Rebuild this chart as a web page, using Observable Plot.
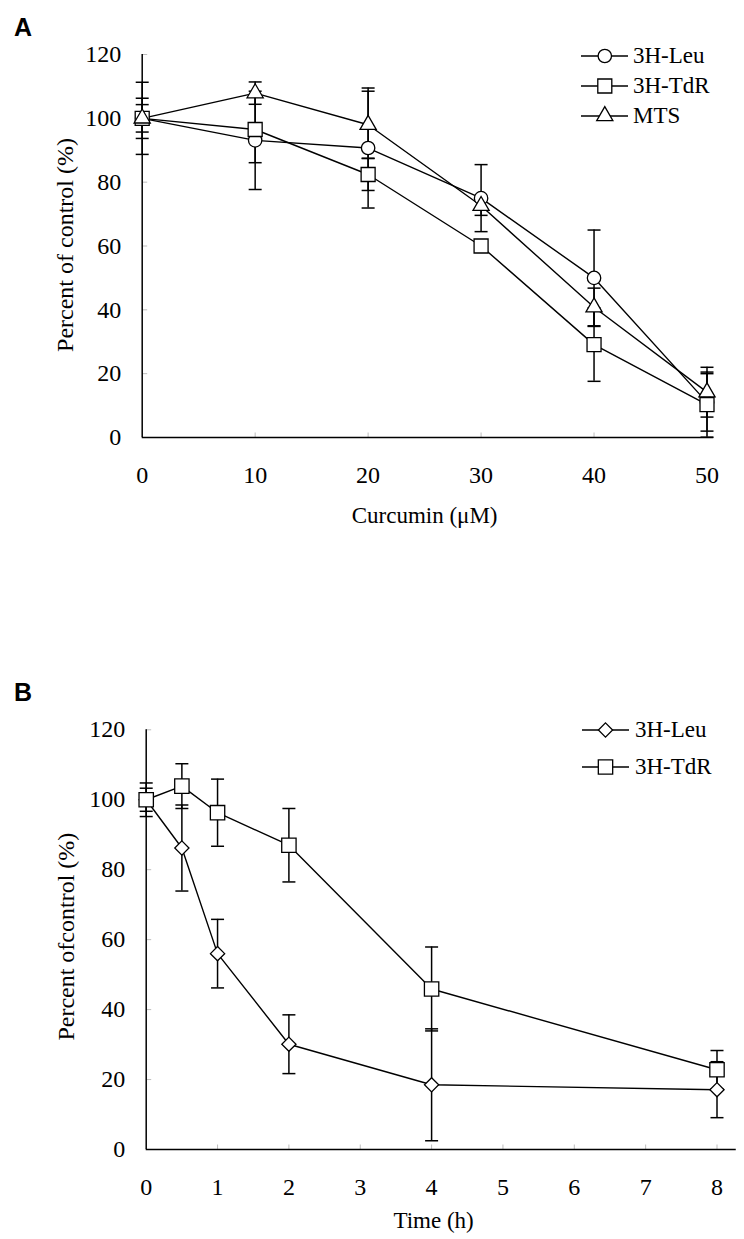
<!DOCTYPE html>
<html>
<head>
<meta charset="utf-8">
<script src="https://cdn.jsdelivr.net/npm/d3@7"></script>
<script src="https://cdn.jsdelivr.net/npm/@observablehq/plot@0.6"></script>
<style>
  body { margin: 0; background: #fff; }
  #page { position: relative; width: 744px; height: 1239px; overflow: hidden; background: #fff;
          font-family: 'Liberation Serif', serif; color: #000; }
  .panel { position: absolute; left: 0; }
  .letter { position: absolute; font-family: 'Liberation Sans', sans-serif; font-weight: bold;
            font-size: 25px; line-height: 1; }
  .lgrow { position: absolute; height: 30px; }
  .lgtext { position: absolute; font-family: 'Liberation Serif', serif; font-size: 23px; line-height: 30px; white-space: nowrap; }
  svg text { font-family: 'Liberation Serif', serif; }
</style>
</head>
<body>
<div id="page"></div>
<script>
// ---------- Panel A data (Curcumin dose) ----------
const doseA = [0, 10, 20, 30, 40, 50];
const leuA = [100, 93.1, 90.7, 75.0, 50.0, 11.0];
const leuErrA = [4.3, 15.4, 18.8, 10.5, 15.0, 9.0];
const tdrA = [100, 96.5, 82.4, 60.0, 29.1, 10.3];
const tdrErrA = [6.3, 10.4, 5.0, 1.0, 11.5, 10.2];
const mtsA = [100, 107.9, 98.0, 72.6, 40.8, 14.2];
const mtsErrA = [11.3, 3.5, 10.5, 3.0, 6.0, 7.8];
const seriesNamesA = ["3H-Leu", "3H-TdR", "MTS"];
const xTicksA = [0, 10, 20, 30, 40, 50];

// ---------- Panel B data (time course) ----------
const timeB = [0, 0.5, 1, 2, 4, 8];
const leuB = [100, 86.2, 56.0, 30.1, 18.5, 17.1];
const leuErrB = [3.3, 12.3, 9.8, 8.4, 16.0, 8.0];
const tdrB = [100, 103.9, 96.3, 87.0, 45.9, 22.8];
const tdrErrB = [4.8, 6.4, 9.6, 10.5, 12.0, 5.5];
const seriesNamesB = ["3H-Leu", "3H-TdR"];
const xTicksB = [0, 1, 2, 3, 4, 5, 6, 7, 8];

const yTicks = [0, 20, 40, 60, 80, 100, 120];

// ---------- helpers ----------
const capSym = { draw(ctx) { ctx.moveTo(-6.5, 0); ctx.lineTo(6.5, 0); } };
const tickRightSym = { draw(ctx) { ctx.moveTo(0, 0); ctx.lineTo(5, 0); } };
const tickUpSym = { draw(ctx) { ctx.moveTo(0, 0); ctx.lineTo(0, -5); } };

const FONT = "Liberation Serif";

function buildPanel(cfg) {
  const marks = [];
  // light grey inner ticks
  marks.push(Plot.dot(yTicks, { x: cfg.xDomain[0], y: d => d, symbol: tickRightSym, fill: "none", stroke: "#bdbdbd", strokeWidth: 1 }));
  marks.push(Plot.dot(cfg.xTicks.filter(v => v > cfg.xDomain[0]), { x: d => d, y: 0, symbol: tickUpSym, fill: "none", stroke: "#bdbdbd", strokeWidth: 1 }));
  // axis lines
  marks.push(Plot.ruleX([cfg.xDomain[0]], { y1: 0, y2: 120, stroke: "black", strokeWidth: 1.5 }));
  marks.push(Plot.ruleY([0], { x1: cfg.xDomain[0], x2: cfg.xAxisEnd, stroke: "black", strokeWidth: 1.5 }));
  // tick labels (text marks positioned by the scales)
  marks.push(Plot.text(cfg.xTicks, { x: d => d, y: 0, text: d => String(d), dy: 38, fontSize: 24, fontFamily: FONT, fill: "black", textAnchor: "middle", lineAnchor: "middle" }));
  marks.push(Plot.text(yTicks, { x: cfg.xDomain[0], y: d => d, text: d => String(d), dx: -21, fontSize: 24, fontFamily: FONT, fill: "black", textAnchor: "end", lineAnchor: "middle" }));
  // titles
  marks.push(Plot.text([cfg.yTitle], { text: d => d, frameAnchor: "left", dx: cfg.yTitleDx, dy: cfg.yTitleDy, rotate: -90, fontSize: 24, fontFamily: FONT, fill: "black", textAnchor: "middle" }));
  marks.push(Plot.text([cfg.xTitle], { text: d => d, frameAnchor: "bottom", dx: cfg.xTitleDx, dy: cfg.xTitleDy, fontSize: 23, fontFamily: FONT, fill: "black", textAnchor: "middle", lineAnchor: "middle" }));

  const tables = cfg.series.map(s => cfg.xs.map((x, i) => ({ x, y: s.ys[i], err: s.errs[i] })));
  // lines
  tables.forEach(t => marks.push(Plot.line(t, { x: "x", y: "y", stroke: "black", strokeWidth: 1.4 })));
  // error bars
  tables.forEach(t => {
    marks.push(Plot.ruleX(t, { x: "x", y1: d => d.y - d.err, y2: d => d.y + d.err, stroke: "black", strokeWidth: 1.5 }));
    marks.push(Plot.dot(t, { x: "x", y: d => d.y + d.err, symbol: capSym, fill: "none", stroke: "black", strokeWidth: 1.5 }));
    marks.push(Plot.dot(t, { x: "x", y: d => d.y - d.err, symbol: capSym, fill: "none", stroke: "black", strokeWidth: 1.5 }));
  });
  // markers
  tables.forEach((t, k) => marks.push(Plot.dot(t, { x: "x", y: "y", symbol: cfg.series[k].symbol, r: cfg.series[k].r, fill: "white", stroke: "black", strokeWidth: 1.3 })));

  return Plot.plot({
    width: 744,
    height: cfg.height,
    marginLeft: cfg.marginLeft,
    marginRight: cfg.marginRight,
    marginTop: cfg.marginTop,
    marginBottom: cfg.marginBottom,
    x: { domain: cfg.xDomain, axis: null },
    y: { domain: [0, 120], axis: null },
    style: { fontFamily: FONT, fontSize: "23px", color: "black", background: "transparent", overflow: "visible" },
    marks
  });
}

function addLegend(page, items, lineLeft, centers, textLeft) {
  items.forEach((it, i) => {
    const row = document.createElement("div");
    row.className = "lgrow";
    row.style.left = lineLeft + "px";
    row.style.top = (centers[i] - 15) + "px";
    const svg = d3.create("svg").attr("width", it.lineLen).attr("height", 30);
    svg.append("line").attr("x1", 0).attr("x2", it.lineLen).attr("y1", 15).attr("y2", 15)
       .attr("stroke", "black").attr("stroke-width", 1.5);
    svg.append("path").attr("transform", `translate(${it.lineLen / 2},15)`)
       .attr("d", d3.symbol(it.type, Math.PI * it.r * it.r)())
       .attr("fill", "white").attr("stroke", "black").attr("stroke-width", 1.3);
    row.appendChild(svg.node());
    page.appendChild(row);
    const tx = document.createElement("div");
    tx.className = "lgtext";
    tx.style.left = textLeft + "px";
    tx.style.top = (centers[i] - 15) + "px";
    tx.textContent = it.name;
    page.appendChild(tx);
  });
}

const page = document.getElementById("page");

// Panel A
const chartA = buildPanel({
  xs: doseA,
  series: [
    { name: seriesNamesA[0], ys: leuA, errs: leuErrA, symbol: "circle", r: 6.7 },
    { name: seriesNamesA[1], ys: tdrA, errs: tdrErrA, symbol: "square", r: 7.9 },
    { name: seriesNamesA[2], ys: mtsA, errs: mtsErrA, symbol: "triangle", r: 6.0 }
  ],
  xDomain: [0, 50], xAxisEnd: 50.6, xTicks: xTicksA,
  height: 540, marginLeft: 141.7, marginRight: 37.5, marginTop: 54, marginBottom: 103,
  yTitle: "Percent of control (%)", yTitleDx: -77, yTitleDy: -1,
  xTitle: "Curcumin (\u03BCM)", xTitleDx: 0, xTitleDy: 78
});
const divA = document.createElement("div");
divA.className = "panel"; divA.style.top = "0px";
divA.appendChild(chartA);
page.appendChild(divA);

// Panel B
const chartB = buildPanel({
  xs: timeB,
  series: [
    { name: seriesNamesB[0], ys: leuB, errs: leuErrB, symbol: "diamond2", r: 6.4 },
    { name: seriesNamesB[1], ys: tdrB, errs: tdrErrB, symbol: "square", r: 8.1 }
  ],
  xDomain: [0, 8], xAxisEnd: 8.27, xTicks: xTicksB,
  height: 619, marginLeft: 145.7, marginRight: 27.5, marginTop: 109.3, marginBottom: 90,
  yTitle: "Percent ofcontrol (%)", yTitleDx: -80, yTitleDy: -3,
  xTitle: "Time (h)", xTitleDx: 2, xTitleDy: 71
});
const divB = document.createElement("div");
divB.className = "panel"; divB.style.top = "620px";
divB.appendChild(chartB);
page.appendChild(divB);

// Legends
addLegend(page, [
  { name: seriesNamesA[0], type: d3.symbolCircle, r: 6.7, lineLen: 47.6 },
  { name: seriesNamesA[1], type: d3.symbolSquare, r: 7.9, lineLen: 47.6 },
  { name: seriesNamesA[2], type: d3.symbolTriangle, r: 6.0, lineLen: 47.6 }
], 580.7, [55.7, 86.2, 116], 633);

addLegend(page, [
  { name: seriesNamesB[0], type: d3.symbolDiamond2, r: 6.4, lineLen: 47 },
  { name: seriesNamesB[1], type: d3.symbolSquare, r: 8.1, lineLen: 47 }
], 582, [730, 766.7], 635);

// Panel letters
const la = document.createElement("div");
la.className = "letter"; la.style.left = "14px"; la.style.top = "15px"; la.textContent = "A";
page.appendChild(la);
const lb = document.createElement("div");
lb.className = "letter"; lb.style.left = "14px"; lb.style.top = "680px"; lb.textContent = "B";
page.appendChild(lb);
</script>
</body>
</html>
